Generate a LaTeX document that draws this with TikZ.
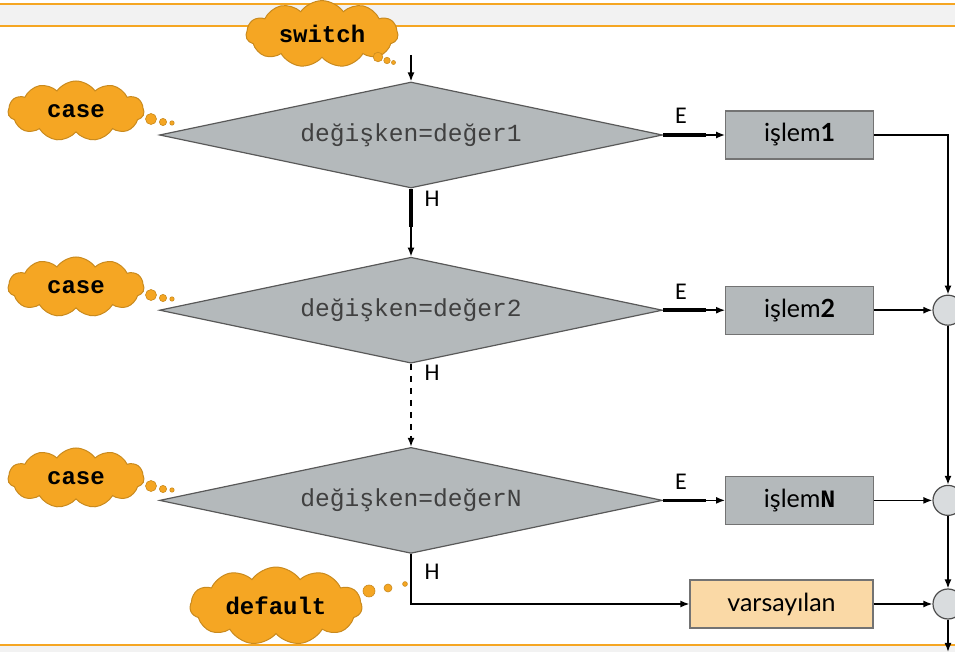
\documentclass[tikz,border=0pt]{standalone}
\usepackage{fontspec}
\setmainfont{Lato}
\setmonofont{Liberation Mono}
\newfontfamily\lblfont{Carlito}
\usepackage{tikz}
\usetikzlibrary{shapes.geometric, shapes.symbols, arrows.meta, positioning, calc}

\definecolor{orng}{HTML}{F5A623}
\definecolor{orngdark}{HTML}{C98A1E}
\definecolor{boxgray}{HTML}{B4B9BB}
\definecolor{circgray}{HTML}{D9DCDE}
\definecolor{bandgray}{HTML}{F2F2F2}
\definecolor{defcol}{HTML}{FAD9A6}

\begin{document}
\begin{tikzpicture}[
    x=0.5pt, y=-0.5pt,
    cond/.style={diamond, aspect=3.5, draw=black!65, fill=boxgray, line width=0.6pt, inner sep=0pt, minimum width=251.5pt, minimum height=53pt, font=\ttfamily\fontsize{12.3}{14}\selectfont, text=black!75},
    task/.style={draw=black!55, fill=boxgray, line width=0.6pt, minimum width=74pt, minimum height=24pt, font=\fontsize{12.5}{14}\selectfont},
    mergept/.style={circle, draw=black!70, fill=circgray, line width=0.6pt, minimum size=15pt, inner sep=0pt},
    thought/.style={cloud, cloud puffs=11, cloud puff arc=110, aspect=2.4, draw=orngdark, fill=orng, line width=0.5pt, inner sep=0pt, minimum width=68pt, minimum height=30pt, font=\ttfamily\bfseries\fontsize{12}{14}\selectfont},
    bubble/.style={circle, fill=orng, draw=orngdark, line width=0.3pt, inner sep=0pt},
    arr/.style={-{Latex[length=4.5pt, width=3.5pt]}, line width=0.75pt},
    stub/.style={line width=1.7pt},
    lbl/.style={font=\lblfont\fontsize{12}{14}\selectfont}
]
\useasboundingbox (0,0) rectangle (955,652);

% frame bands
\fill[bandgray] (0,4) rectangle (955,26);
\draw[orng, line width=0.8pt] (0,4) -- (955,4);
\draw[orng, line width=0.8pt] (0,26) -- (955,26);
\fill[bandgray] (0,645) rectangle (955,652);
\draw[orng, line width=0.8pt] (0,645) -- (955,645);

% decisions
\node[cond] (d1) at (411,135) {değişken=değer1};
\node[cond, below=34pt of d1] (d2) {değişken=değer2};
\node[cond, below=41.5pt of d2] (d3) {değişken=değerN};

% actions
\node[task, right=31pt of d1] (t1) {işlem\textbf{1}};
\node[task, right=31pt of d2] (t2) {işlem\textbf{2}};
\node[task, right=31pt of d3] (t3) {işlem\texttt{\textbf{N}}};
\node[task, fill=defcol, minimum width=91.5pt] (def) at (781.5,604) {varsayılan};

% merge points
\coordinate (rail) at (948,0);
\node[mergept] (c2) at (t2 -| rail) {};
\node[mergept] (c3) at (t3 -| rail) {};
\node[mergept] (c4) at (def -| rail) {};
\coordinate (out) at (948,652);

% thought clouds
\node[thought, minimum width=76pt, minimum height=25pt] (sw) at (322,34) {switch};
\node[thought] (k1) at (76,111) {case};
\node[thought] (k2) at (76,287) {case};
\node[thought] (k3) at (76,478) {case};
\node[thought, minimum width=86pt, minimum height=27pt] (dflt) at (276,606) {default};

\node[bubble, minimum size=4.8pt] (b1) at (378,57) {};
\node[bubble, minimum size=3.2pt] (b2) at (387,60.5) {};
\node[bubble, minimum size=2pt] (b3) at (393.5,62.5) {};
\foreach \y/\k in {119/p, 295/q, 486/r} {
  \node[bubble, minimum size=5.5pt] (\k1) at (151,\y) {};
  \node[bubble, minimum size=3.6pt] (\k2) at (163,\y+3) {};
  \node[bubble, minimum size=2.2pt] (\k3) at (172,\y+4) {};
}
\node[bubble, minimum size=6pt] (s1) at (369,591) {};
\node[bubble, minimum size=4pt] (s2) at (388,588) {};
\node[bubble, minimum size=2.4pt] (s3) at (405,584) {};

% entry
\coordinate (in) at (411,55);
\draw[arr] (in) -- (d1.north);

% false branches
\draw[stub] (d1.south) -- ++(0,38);
\draw[arr] (d1.south) -- (d2.north);
\draw[arr, dashed] (d2.south) -- (d3.north);
\draw[arr] (d3.south) |- (def.west);
\node[lbl] (h1) at (432,199) {H};
\node[lbl] (h2) at (432,373) {H};
\node[lbl] (h3) at (432,572) {H};

% true branches
\foreach \d/\t in {d1/t1, d2/t2, d3/t3} {
  \draw[stub] (\d.east) -- ++(43,0);
  \draw[arr] (\d.east) -- (\t.west);
  \node[lbl, above=2pt of \d.east, xshift=9pt] {E};
}

% merge
\draw[arr] (t1.east) -| (c2.north);
\draw[arr] (t2.east) -- (c2.west);
\draw[arr] (t3.east) -- (c3.west);
\draw[arr] (def.east) -- (c4.west);
\draw[arr] (c2.south) -- (c3.north);
\draw[arr] (c3.south) -- (c4.north);
\draw[arr] (c4.south) -- (out);

\end{tikzpicture}
\end{document}
